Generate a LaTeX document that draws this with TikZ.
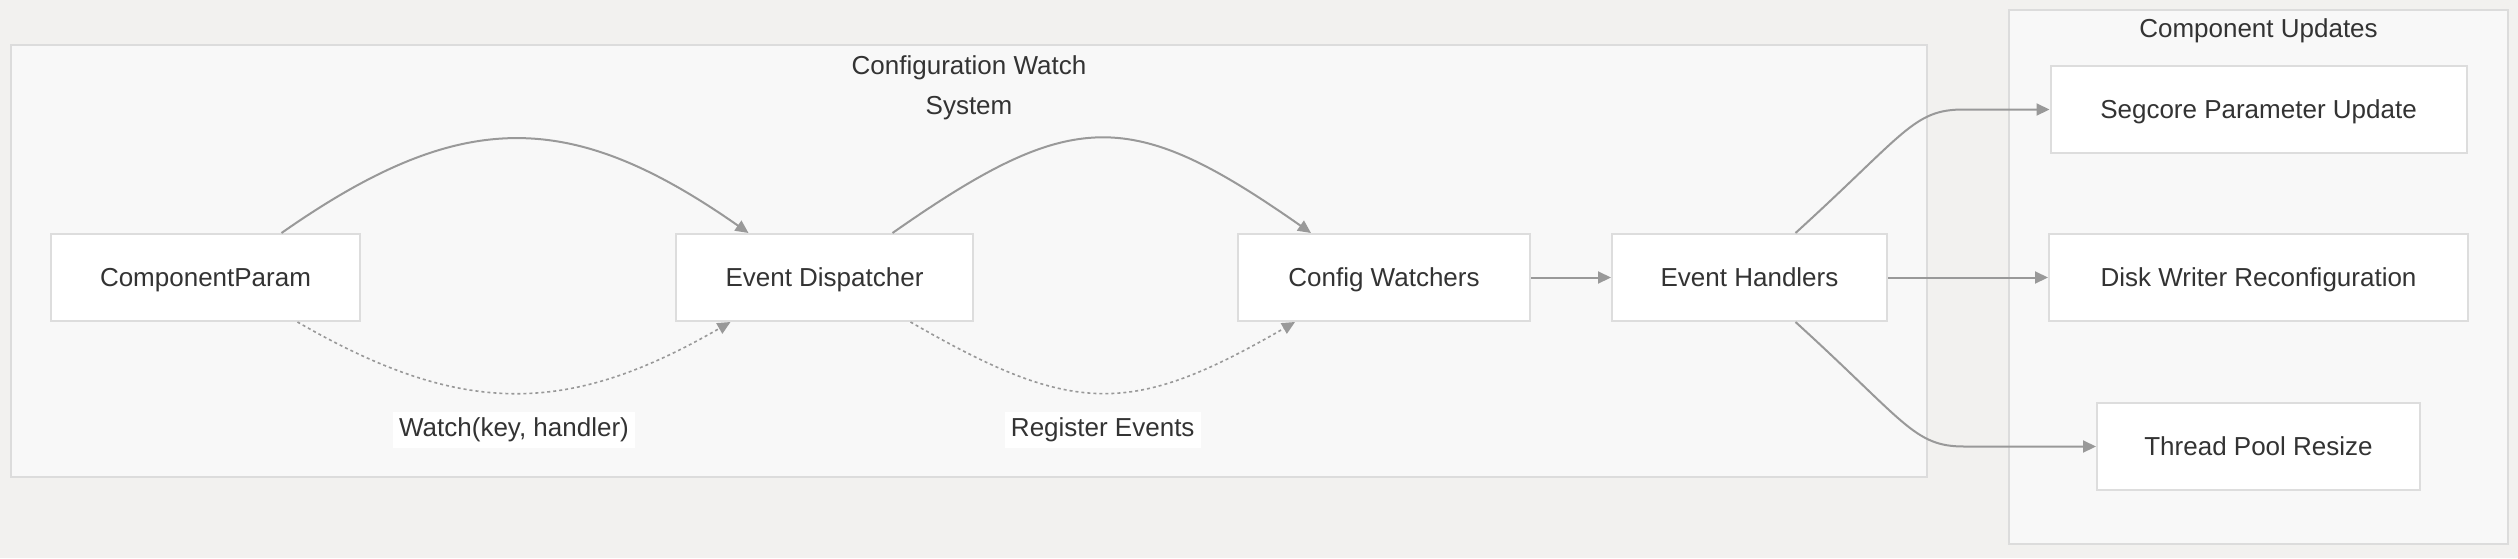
\documentclass[tikz,border=0pt]{standalone}
\usepackage{fontspec}
\setmainfont{Liberation Sans}
\usetikzlibrary{arrows.meta, positioning}
\definecolor{pagebg}{HTML}{F2F1EF}
\definecolor{groupfill}{HTML}{F8F8F8}
\definecolor{groupline}{HTML}{DCDCDC}
\definecolor{boxline}{HTML}{DDDDDD}
\definecolor{wireline}{HTML}{999999}
\definecolor{inktext}{HTML}{333333}
\tikzset{
    block/.style={rectangle, draw=boxline, fill=white, line width=1pt, minimum height=43.5pt, text=inktext, font=\fontsize{13}{16}\selectfont, text height=10.5pt, text depth=1.5pt, text centered},
    groupbox/.style={rectangle, draw=groupline, fill=groupfill, line width=1pt},
    grouptitle/.style={text=inktext, font=\fontsize{13}{20}\selectfont, align=center},
    edgelabel/.style={fill=white, text=inktext, font=\fontsize{13}{16}\selectfont, inner sep=3pt},
    arrow/.style={-{Triangle[length=6.5pt, width=6pt]}, draw=wireline, line width=1pt},
    dasharrow/.style={arrow, line width=0.8pt, dash pattern=on 1.5pt off 1.5pt},
}

\begin{document}
\begin{tikzpicture}[node distance=40pt and 80pt]
        % Background
        \fill[pagebg] (0,0) rectangle (1259pt,-279pt);
        \useasboundingbox (0,0) rectangle (1259pt,-279pt);

        % Groups
        \node[groupbox, minimum width=958pt, minimum height=216pt] (watchgrp) at (484.5pt,-130.5pt) {};
        \node[grouptitle] (watchtitle) at ([yshift=-22pt]watchgrp.north) {Configuration Watch\\System};
        \node[groupbox, minimum width=249.5pt, minimum height=267pt] (updgrp) at (1129.25pt,-138.5pt) {};
        \node[grouptitle] (updtitle) at ([yshift=-11pt]updgrp.north) {Component Updates};

        % Nodes
        \node[block, minimum width=154.5pt] (cparam) at (102.75pt,-138.75pt) {ComponentParam};
        \node[block, minimum width=148.5pt, right=157pt of cparam] (dispatcher) {Event Dispatcher};
        \node[block, minimum width=146pt, right=131.5pt of dispatcher] (watchers) {Config Watchers};
        \node[block, minimum width=137.5pt, right=40pt of watchers] (handlers) {Event Handlers};
        \node[block, minimum width=209.5pt, right=80pt of handlers] (disk) {Disk Writer Reconfiguration};
        \node[block, minimum width=208pt, above=39.5pt of disk] (segcore) {Segcore Parameter Update};
        \node[block, minimum width=161.5pt, below=40pt of disk] (thread) {Thread Pool Resize};

        % Connections
        \draw[arrow] ([xshift=38pt]cparam.north) to[out=35, in=145, looseness=1.2] ([xshift=-38pt]dispatcher.north);
        \draw[dasharrow] ([xshift=46pt]cparam.south) to[out=-30, in=-150, looseness=1.12] node[edgelabel, below=9pt] {Watch(key, handler)} ([xshift=-47pt]dispatcher.south);

        \draw[arrow] ([xshift=34pt]dispatcher.north) to[out=35, in=145, looseness=1.35] ([xshift=-36.5pt]watchers.north);
        \draw[dasharrow] ([xshift=43pt]dispatcher.south) to[out=-30, in=-150, looseness=1.26] node[edgelabel, below=9pt] {Register Events} ([xshift=-44.5pt]watchers.south);

        \draw[arrow] (watchers) -- (handlers);
        \draw[arrow] (handlers) -- (disk);
        \draw[arrow] ([xshift=23pt]handlers.north) .. controls +(55pt,50pt) and +(-25pt,0pt) .. ([xshift=-43pt]segcore.west) -- (segcore.west);
        \draw[arrow] ([xshift=23pt]handlers.south) .. controls +(55pt,-50pt) and +(-25pt,0pt) .. ([xshift=-66pt]thread.west) -- (thread.west);
    \end{tikzpicture}
\end{document}
